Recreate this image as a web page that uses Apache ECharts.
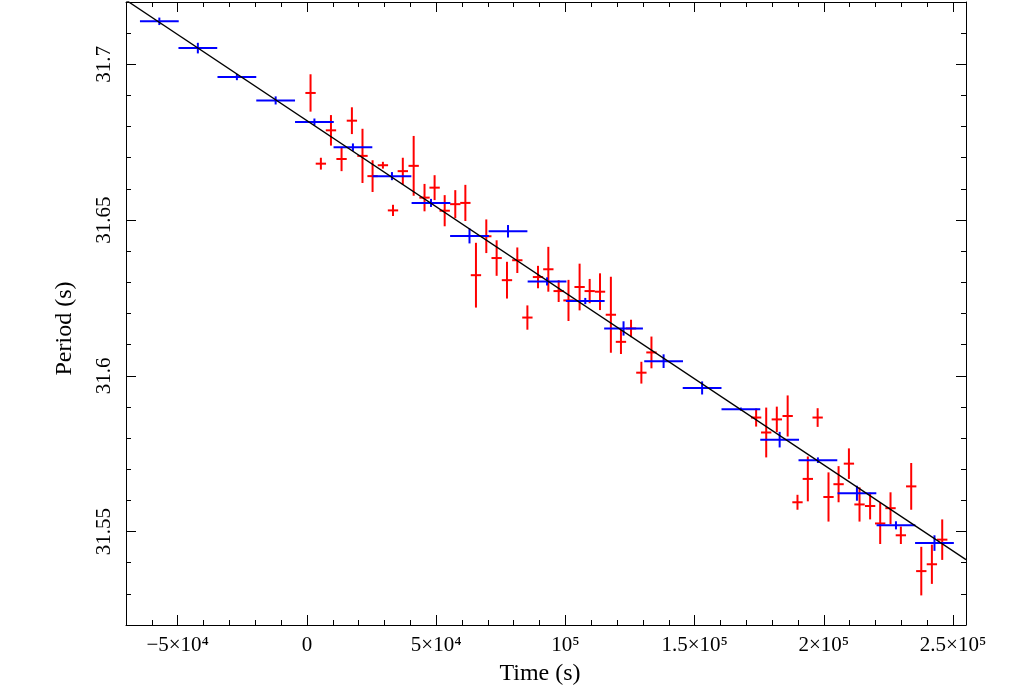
<!DOCTYPE html>
<html>
<head>
<meta charset="utf-8">
<script src="https://cdn.jsdelivr.net/npm/echarts@6/dist/echarts.min.js"></script>
<style>
html,body{margin:0;padding:0;background:#fff;}
#chart{width:1013px;height:685px;}
</style>
</head>
<body>
<div id="chart"></div>
<script>
// ---- data ----
const blueT = [-57100,-42200,-27100,-12100,2900,17800,32900,48000,62900,77800,92900,107700,122500,138000,152900,167900,182900,197700,212800,227900,242800];
const blueP = [31.7138,31.7052,31.6959,31.6884,31.6815,31.6734,31.6641,31.6555,31.6449,31.6464,31.6303,31.6240,31.6152,31.6047,31.5961,31.5893,31.5795,31.5729,31.5623,31.5520,31.5463];
const blueErrP = [0.0012,0.0017,0.0010,0.0013,0.0011,0.0012,0.0013,0.0013,0.0024,0.0020,0.0013,0.0010,0.0023,0.0022,0.0021,0.0005,0.0025,0.0009,0.0024,0.0013,0.0025];
const blueHalfBin = [7500,7500,7500,7500,7500,7500,7500,7500,7500,7500,7500,7500,7500,7500,7500,7500,7500,7500,7500,7500,7500];

const redT = [1400,5400,9300,13400,17400,21500,25400,29400,33300,37100,41300,45500,49400,53300,57400,61300,65400,69400,73400,77400,81400,85300,89400,93400,97400,101200,105500,109400,113400,117600,121500,125400,129400,133300,173800,177700,181800,186000,189800,193800,197600,201800,205700,209700,213800,217900,221800,225800,229800,233800,237700,241800,245800];
const redP = [31.6908,31.6681,31.6788,31.6696,31.6819,31.6706,31.6641,31.6676,31.6531,31.6657,31.6674,31.6572,31.6604,31.6530,31.6551,31.6555,31.6323,31.6448,31.6378,31.6307,31.6371,31.6187,31.6317,31.6342,31.6272,31.6242,31.6285,31.6272,31.6270,31.6196,31.6109,31.6152,31.6010,31.6075,31.5866,31.5818,31.5860,31.5871,31.5594,31.5669,31.5866,31.5611,31.5652,31.5718,31.5587,31.5582,31.5526,31.5575,31.5488,31.5645,31.5373,31.5395,31.5474];
const redErrP = [0.0060,0.0019,0.0049,0.0039,0.0043,0.0087,0.0051,0.0011,0.0018,0.0043,0.0096,0.0044,0.0040,0.0050,0.0045,0.0058,0.0104,0.0054,0.0057,0.0059,0.0041,0.0039,0.0036,0.0072,0.0035,0.0066,0.0075,0.0039,0.0059,0.0122,0.0039,0.0028,0.0035,0.0051,0.0029,0.0080,0.0041,0.0066,0.0024,0.0072,0.0030,0.0079,0.0058,0.0049,0.0055,0.0043,0.0066,0.0051,0.0028,0.0075,0.0078,0.0063,0.0065];
const redHalfBin = 2000;

const fitT = [-70000, 255000];
const fitP = [31.7206, 31.5410];

const xMajorTicks = [-50000, 0, 50000, 100000, 150000, 200000, 250000];
const xTickLabels = ['\u22125\u00d710\u2074', '0', '5\u00d710\u2074', '10\u2075', '1.5\u00d710\u2075', '2\u00d710\u2075', '2.5\u00d710\u2075'];
const xMinorTicks = [-70000,-60000,-50000,-40000,-30000,-20000,-10000,0,10000,20000,30000,40000,50000,60000,70000,80000,90000,100000,110000,120000,130000,140000,150000,160000,170000,180000,190000,200000,210000,220000,230000,240000,250000];
const yMajorTicks = [31.55, 31.6, 31.65, 31.7];
const yTickLabels = ['31.55', '31.6', '31.65', '31.7'];
const yMinorTicks = [31.52,31.53,31.54,31.55,31.56,31.57,31.58,31.59,31.6,31.61,31.62,31.63,31.64,31.65,31.66,31.67,31.68,31.69,31.7,31.71,31.72];

const xMin = -70000, xMax = 255000, yMin = 31.52, yMax = 31.72;
const FONT = '"Liberation Serif", "DejaVu Serif", serif';

// ---- build ----
const blueData = blueT.map((t, i) => [t, blueP[i], blueHalfBin[i], blueErrP[i]]);
const redData = redT.map((t, i) => [t, redP[i], redHalfBin, redErrP[i]]);
const fitData = fitT.map((t, i) => [t, fitP[i]]);

function crossRenderer(color) {
  return function (params, api) {
    const t = api.value(0), p = api.value(1), dt = api.value(2), dp = api.value(3);
    const a = api.coord([t - dt, p]), b = api.coord([t + dt, p]);
    const c = api.coord([t, p - dp]), d = api.coord([t, p + dp]);
    const st = { stroke: color, lineWidth: 2 };
    return {
      type: 'group',
      children: [
        { type: 'line', shape: { x1: a[0], y1: a[1], x2: b[0], y2: b[1] }, style: st },
        { type: 'line', shape: { x1: c[0], y1: c[1], x2: d[0], y2: d[1] }, style: st }
      ]
    };
  };
}

const black = '#000';
function xAx(pos, major, withLabel) {
  const o = {
    type: 'value', min: xMin, max: xMax, position: pos,
    axisLine: { show: major, onZero: false, lineStyle: { color: black, width: 1 } },
    axisTick: { show: true, inside: true, length: major ? 10 : 5, customValues: major ? xMajorTicks : xMinorTicks, lineStyle: { color: black, width: 1 } },
    axisLabel: { show: false },
    splitLine: { show: false }
  };
  if (withLabel) {
    o.axisLabel = {
      show: true, customValues: xMajorTicks, margin: 10,
      fontFamily: FONT, fontSize: 21, color: black,
      formatter: v => { const i = xMajorTicks.indexOf(v); return i >= 0 ? xTickLabels[i] : ''; }
    };
    o.name = 'Time (s)';
    o.nameLocation = 'middle';
    o.nameGap = 37;
    o.nameTextStyle = { fontFamily: FONT, fontSize: 24, color: black, padding: [0, 12, 0, 0] };
  }
  return o;
}
function yAx(pos, major, withLabel) {
  const o = {
    type: 'value', min: yMin, max: yMax, position: pos,
    axisLine: { show: major, onZero: false, lineStyle: { color: black, width: 1 } },
    axisTick: { show: true, inside: true, length: major ? 10 : 5, customValues: major ? yMajorTicks : yMinorTicks, lineStyle: { color: black, width: 1 } },
    axisLabel: { show: false },
    splitLine: { show: false }
  };
  if (withLabel) {
    o.axisLabel = {
      show: true, customValues: yMajorTicks, margin: 11, rotate: 90,
      fontFamily: FONT, fontSize: 21, color: black,
      formatter: v => { const i = yMajorTicks.findIndex(m => Math.abs(m - v) < 1e-9); return i >= 0 ? yTickLabels[i] : ''; }
    };
    o.name = 'Period (s)';
    o.nameLocation = 'middle';
    o.nameGap = 49;
    o.nameRotate = 90;
    o.nameTextStyle = { fontFamily: FONT, fontSize: 24, color: black, padding: [0, 30, 0, 0] };
  }
  return o;
}

const chart = echarts.init(document.getElementById('chart'), null, { renderer: 'canvas' });
chart.setOption({
  animation: false,
  backgroundColor: '#fff',
  grid: { left: 126, top: 2, right: 47, bottom: 60, containLabel: false, outerBoundsMode: 'none' },
  xAxis: [xAx('bottom', true, true), xAx('bottom', false, false), xAx('top', true, false), xAx('top', false, false)],
  yAxis: [yAx('left', true, true), yAx('left', false, false), yAx('right', true, false), yAx('right', false, false)],
  series: [
    { type: 'custom', name: 'red', xAxisIndex: 0, yAxisIndex: 0, clip: true, renderItem: crossRenderer('#ff0000'), data: redData, encode: { x: 0, y: 1 }, z: 2 },
    { type: 'custom', name: 'blue', xAxisIndex: 0, yAxisIndex: 0, clip: true, renderItem: crossRenderer('#0000ff'), data: blueData, encode: { x: 0, y: 1 }, z: 3 },
    { type: 'line', name: 'fit', xAxisIndex: 0, yAxisIndex: 0, data: fitData, symbol: 'none', clip: true, lineStyle: { color: black, width: 1.3 }, z: 4 }
  ]
});
</script>
</body>
</html>
